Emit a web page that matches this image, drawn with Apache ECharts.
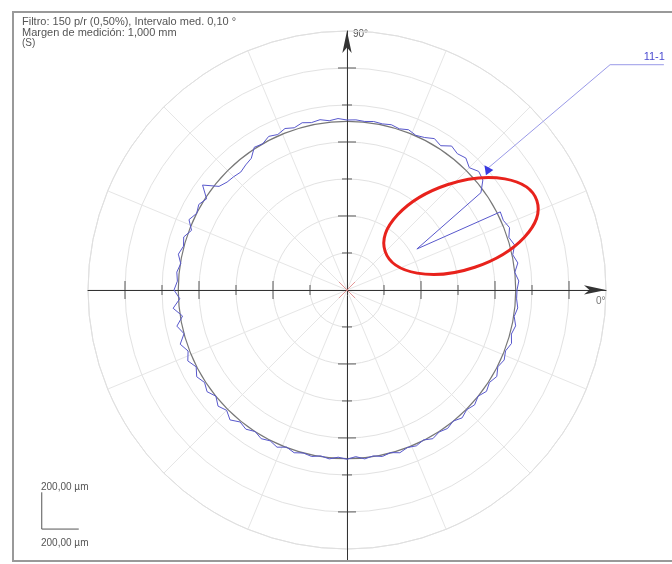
<!DOCTYPE html>
<html>
<head>
<meta charset="utf-8">
<script src="https://cdn.jsdelivr.net/npm/echarts@6/dist/echarts.min.js"></script>
<style>
html, body { margin: 0; padding: 0; background: #fff; }
#main { width: 672px; height: 564px; }
</style>
</head>
<body>
<div id="main"></div>
<script>
// profile angles (deg) and radii (µm)
var profileAngles = [0, 3, 6, 9, 12, 15, 18, 21, 24, 27, 30.4, 36, 39, 42, 45, 48, 51, 54, 57, 60,
	63, 66, 69, 72, 75, 78, 81, 84, 87, 90, 93, 96, 99, 102, 105, 108, 111, 114, 117, 120,
	123, 126, 129, 132, 135, 138, 141, 144, 147, 150, 153, 156, 159, 162, 165, 168, 171, 174, 177, 180,
	183, 186, 189, 192, 195, 198, 201, 204, 207, 210, 213, 216, 219, 222, 225, 228, 231, 234, 237, 240,
	243, 246, 249, 252, 255, 258, 261, 264, 267, 270, 273, 276, 279, 282, 285, 288, 291, 294, 297, 300,
	303, 306, 309, 312, 315, 318, 321, 324, 327, 330, 333, 336, 339, 342, 345, 348, 351, 354, 357, 360];
var profileRadii = [919, 930, 912, 935, 916, 938, 920, 941, 925, 930, 438, 895, 945, 958, 935, 960, 948, 962, 930, 945,
	925, 915, 928, 916, 925, 918, 922, 916, 921, 919, 928, 920, 932, 925, 936, 922, 935, 920, 932, 912,
	920, 880, 870, 858, 866, 872, 890, 965, 905, 925, 912, 935, 900, 928, 915, 932, 910, 925, 918, 935,
	905, 945, 900, 940, 912, 948, 920, 942, 915, 938, 918, 935, 912, 938, 920, 945, 918, 930, 912, 928,
	915, 930, 910, 925, 912, 920, 908, 918, 905, 915, 902, 918, 908, 920, 910, 925, 912, 922, 910, 928,
	915, 925, 912, 930, 915, 928, 912, 932, 918, 935, 915, 930, 918, 935, 920, 932, 915, 928, 918, 919];
var refRadius = 912;          // reference circle (µm)
var radiusMax = 1400;         // outer ring (µm)
var ringStep = 200;
var spokeStep = 22.5;
var longTicks = [-1200, -800, -400, 400, 800, 1200];
var shortTicks = [-1000, -600, -200, 200, 600, 1000];
var leaderPts = [[757, 649], [1422, 1216], [1713, 1216]];
var leaderLabel = '11-1';
var scaleBarPts = [[-1650, -1110], [-1650, -1310], [-1450, -1310]];
var scaleBarLabel = '200,00 µm';
var headerLines = ['Filtro: 150 p/r (0,50%), Intervalo med. 0,10 °', 'Margen de medición: 1,000 mm', '(S)'];

var cx = 347, cy = 290, R = 259;
var k = R / radiusMax;   // px per µm
var font = 'Liberation Sans, Arial, sans-serif';

var myChart = echarts.init(document.getElementById('main'));

var profileData = [];
for (var i = 0; i < profileAngles.length; i++) {
	profileData.push([profileRadii[i], profileAngles[i]]);
}
var xTickData = [], yTickData = [];
for (var j = 0; j < longTicks.length; j++) {
	xTickData.push({value: [longTicks[j], 0], symbolSize: [1, 18]});
	yTickData.push({value: [0, longTicks[j]], symbolSize: [18, 1]});
}
for (var m = 0; m < shortTicks.length; m++) {
	xTickData.push({value: [shortTicks[m], 0], symbolSize: [1, 10]});
	yTickData.push({value: [0, shortTicks[m]], symbolSize: [10, 1]});
}
var leaderData = leaderPts.map(function(p, idx) {
	if (idx == 0) {
		return {value: p, symbol: 'triangle', symbolSize: 9, symbolRotate: 35, itemStyle: {color: '#3a3ae0'}};
	}
	return {value: p, symbol: 'none'};
});

var option = {
	animation: false,
	backgroundColor: '#fff',
	polar: [
		{center: [cx, cy], radius: R},
		{center: [cx, cy], radius: R * refRadius / radiusMax}
	],
	angleAxis: [{
		polarIndex: 0, type: 'value', min: 0, max: 360, interval: spokeStep,
		startAngle: 0, clockwise: false,
		axisLine: {show: true, lineStyle: {color: '#e0e0e0', width: 1}},
		axisTick: {show: false}, axisLabel: {show: false},
		splitLine: {show: true, lineStyle: {color: '#e6e6e6', width: 1}}
	}, {
		polarIndex: 1, type: 'value', min: 0, max: 360, startAngle: 0, clockwise: false,
		axisLine: {show: true, lineStyle: {color: '#777', width: 1.2}},
		axisTick: {show: false}, axisLabel: {show: false}, splitLine: {show: false}
	}],
	radiusAxis: [{
		polarIndex: 0, type: 'value', min: 0, max: radiusMax, interval: ringStep,
		axisLine: {show: false}, axisTick: {show: false}, axisLabel: {show: false},
		splitLine: {show: true, lineStyle: {color: '#e2e2e2', width: 1}}
	}, {
		polarIndex: 1, type: 'value', min: 0, max: radiusMax, show: false
	}],
	grid: [
		{left: 88, top: 31, width: 518, height: 529},
		// same scale, whole frame, for leader line and scale bar
		{left: cx - 1800 * k, top: cy - 1500 * k, width: 3550 * k, height: 3000 * k}
	],
	xAxis: [{
		gridIndex: 0, type: 'value', min: -1400, max: 1400,
		axisLine: {onZero: true, symbol: ['none', 'arrow'], symbolSize: [7, 22], lineStyle: {color: '#333', width: 1}},
		axisTick: {show: false}, axisLabel: {show: false}, splitLine: {show: false}
	}, {
		gridIndex: 1, type: 'value', min: -1800, max: 1750, show: false
	}],
	yAxis: [{
		gridIndex: 0, type: 'value', min: -1460, max: 1400,
		axisLine: {onZero: true, symbol: ['none', 'arrow'], symbolSize: [7, 22], lineStyle: {color: '#333', width: 1}},
		axisTick: {show: false}, axisLabel: {show: false}, splitLine: {show: false}
	}, {
		gridIndex: 1, type: 'value', min: -1500, max: 1500, show: false
	}],
	series: [{
		name: 'perfil',
		type: 'line',
		coordinateSystem: 'polar',
		polarIndex: 0,
		showSymbol: false,
		lineStyle: {color: '#5858cc', width: 1},
		data: profileData,
		z: 5
	}, {
		type: 'scatter', symbol: 'rect', itemStyle: {color: '#333'}, data: xTickData, z: 6
	}, {
		type: 'scatter', symbol: 'rect', itemStyle: {color: '#333'}, data: yTickData, z: 6
	}, {
		type: 'scatter',
		symbol: 'path://M0,0L10,10M10,0L0,10',
		symbolSize: 16,
		itemStyle: {color: 'transparent', borderColor: '#e08080', borderWidth: 1},
		data: [[0, 0]], z: 7
	}, {
		type: 'line', xAxisIndex: 1, yAxisIndex: 1, data: leaderData,
		lineStyle: {color: '#9a9ae8', width: 1}, z: 8,
		endLabel: {show: true, formatter: leaderLabel, color: '#4a4ad0', fontSize: 11, fontFamily: font,
			align: 'right', verticalAlign: 'bottom', offset: [-7, -2]}
	}, {
		type: 'line', xAxisIndex: 1, yAxisIndex: 1, showSymbol: false, data: scaleBarPts,
		lineStyle: {color: '#555', width: 1}, z: 8
	}],
	graphic: [
		{type: 'rect', shape: {x: 13, y: 12, width: 670, height: 549}, style: {fill: 'none', stroke: '#999', lineWidth: 2}, z: 1},
		{type: 'text', x: 22, y: 16, style: {text: headerLines[0], fill: '#555', font: '11px ' + font}},
		{type: 'text', x: 22, y: 27, style: {text: headerLines[1], fill: '#555', font: '11px ' + font}},
		{type: 'text', x: 22, y: 38, style: {text: headerLines[2], fill: '#555', font: '10px ' + font}},
		{type: 'text', x: 353, y: 29, style: {text: '90°', fill: '#555', font: '10px ' + font}},
		{type: 'text', x: 596, y: 296, style: {text: '0°', fill: '#777', font: '10px ' + font}},
		{type: 'text', x: 41, y: 482, style: {text: scaleBarLabel, fill: '#555', font: '10px ' + font}},
		{type: 'text', x: 41, y: 538, style: {text: scaleBarLabel, fill: '#555', font: '10px ' + font}},
		{type: 'ellipse', x: 461, y: 226, rotation: 18.5 * Math.PI / 180,
			shape: {cx: 0, cy: 0, rx: 80, ry: 43.5},
			style: {fill: 'none', stroke: '#e8221c', lineWidth: 3}, z: 20}
	]
};
myChart.setOption(option);
</script>
</body>
</html>
